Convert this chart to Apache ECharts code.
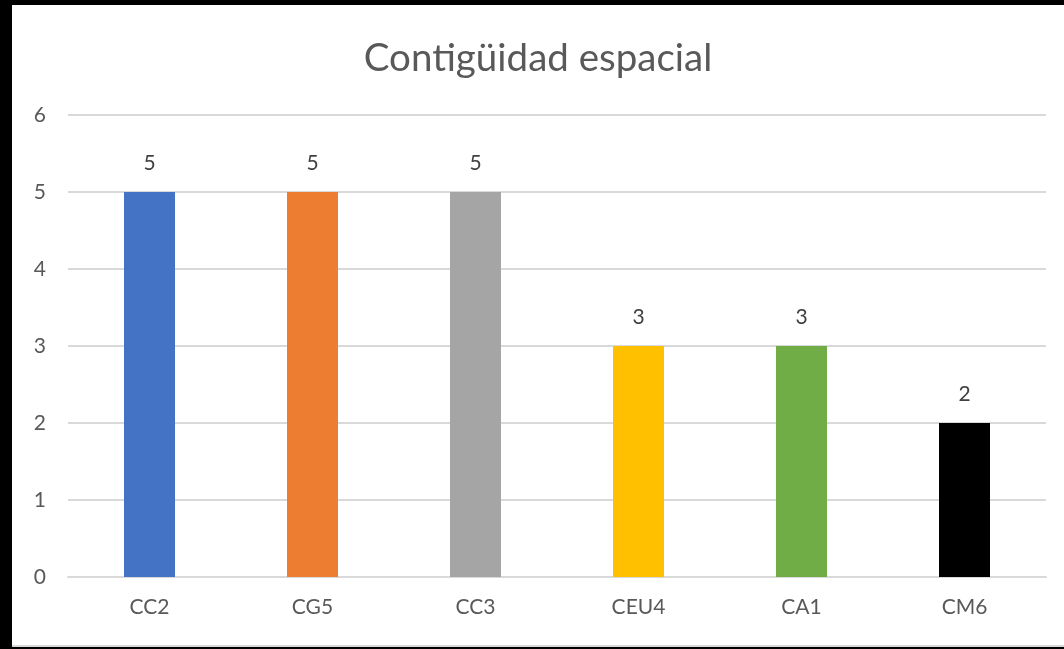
<!DOCTYPE html>
<html>
<head>
<meta charset="utf-8">
<script src="https://cdn.jsdelivr.net/npm/echarts@6/dist/echarts.min.js"></script>
<style>
html, body {
    margin: 0;
    padding: 0;
    background: #000;
    width: 1064px;
    height: 649px;
    overflow: hidden;
}
#chart {
    position: absolute;
    left: 12px;
    top: 5px;
    width: 1052px;
    height: 640px;
    background: #fff;
    border-bottom: 2px solid #d9d9d9;
}
</style>
</head>
<body>
<div id="chart"></div>
<script>
var categories = ['CC2', 'CG5', 'CC3', 'CEU4', 'CA1', 'CM6'];
var values = [5, 5, 5, 3, 3, 2];
var colors = ['#4472C4', '#ED7D31', '#A5A5A5', '#FFC000', '#70AD47', '#000000'];

var chart = echarts.init(document.getElementById('chart'));
var option = {
    backgroundColor: '#fff',
    animation: false,
    title: {
        text: 'Contigüidad espacial',
        left: 'center',
        top: 29,
        textStyle: {
            fontFamily: 'Lato',
            fontSize: 38.5,
            fontWeight: 'normal',
            color: '#595959'
        }
    },
    grid: {
        left: 56,
        right: 18,
        top: 110,
        bottom: 68
    },
    xAxis: {
        type: 'category',
        data: categories,
        axisLine: { lineStyle: { color: '#d9d9d9', width: 2 } },
        axisTick: { show: false },
        axisLabel: {
            margin: 20,
            fontFamily: 'Lato',
            fontSize: 21,
            color: '#595959'
        }
    },
    yAxis: {
        type: 'value',
        min: 0,
        max: 6,
        interval: 1,
        axisLine: { show: false },
        axisTick: { show: false },
        splitLine: { lineStyle: { color: '#d9d9d9', width: 2 } },
        axisLabel: {
            margin: 22,
            fontFamily: 'Lato',
            fontSize: 21,
            color: '#595959'
        }
    },
    series: [{
        type: 'bar',
        barWidth: 51,
        data: values.map(function (v, i) {
            return { value: v, itemStyle: { color: colors[i] } };
        }),
        label: {
            show: true,
            position: 'top',
            distance: 18,
            fontFamily: 'Lato',
            fontSize: 21,
            color: '#404040'
        }
    }]
};
chart.setOption(option);
</script>
</body>
</html>
